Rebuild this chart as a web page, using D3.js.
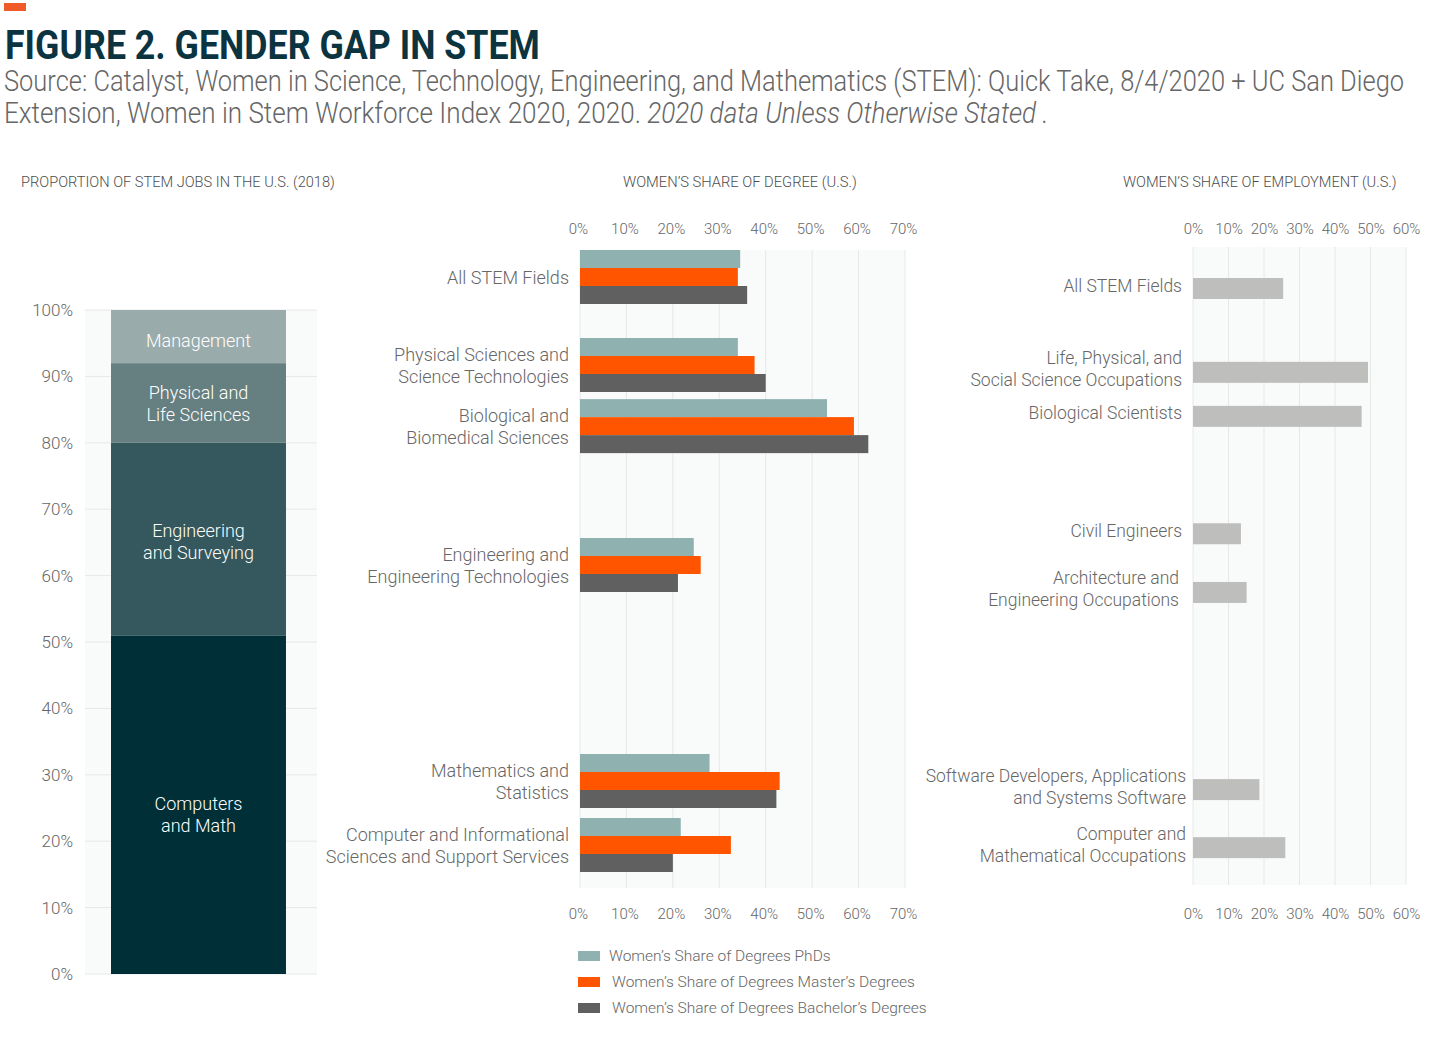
<!DOCTYPE html>
<html><head><meta charset="utf-8">
<script src="https://cdn.jsdelivr.net/npm/d3@7"></script>
<style>
body{margin:0;background:#fff}
text{font-family:Roboto,"Open Sans",sans-serif}
</style>
</head><body>
<svg id="c" width="1430" height="1064"></svg>
<script>
// ---------- DATA ----------
const titleText = "FIGURE 2. GENDER GAP IN STEM";
const sourceLine1 = "Source: Catalyst, Women in Science, Technology, Engineering, and Mathematics (STEM): Quick Take, 8/4/2020 + UC San Diego";
const sourceLine2 = "Extension, Women in Stem Workforce Index 2020, 2020. ";
const sourceLine2Italic = "2020 data Unless Otherwise Stated .";

const jobsTitle = "PROPORTION OF STEM JOBS IN THE U.S. (2018)";
const jobCategories = ["Computers and Math", "Engineering and Surveying", "Physical and Life Sciences", "Management"];
const jobLabelLines = [["Computers", "and Math"], ["Engineering", "and Surveying"], ["Physical and", "Life Sciences"], ["Management"]];
const jobShares = [51, 29, 12, 8];
const jobTicks = [0, 10, 20, 30, 40, 50, 60, 70, 80, 90, 100];

const degreeTitle = "WOMEN\u2019S SHARE OF DEGREE (U.S.)";
const degreeFields = ["All STEM Fields", "Physical Sciences and Science Technologies", "Biological and Biomedical Sciences",
  "Engineering and Engineering Technologies", "Mathematics and Statistics", "Computer and Informational Sciences and Support Services"];
const degreeFieldLines = [["All STEM Fields"], ["Physical Sciences and", "Science Technologies"], ["Biological and", "Biomedical Sciences"],
  ["Engineering and", "Engineering Technologies"], ["Mathematics and", "Statistics"], ["Computer and Informational", "Sciences and Support Services"]];
const degreeSeries = ["Women\u2019s Share of Degrees PhDs", "Women\u2019s Share of Degrees Master\u2019s Degrees", "Women\u2019s Share of Degrees Bachelor\u2019s Degrees"];
const phdShare = [34.5, 34.0, 53.2, 24.5, 27.9, 21.7];
const mastersShare = [34.0, 37.6, 59.0, 26.0, 43.0, 32.5];
const bachelorsShare = [36.0, 40.0, 62.1, 21.1, 42.3, 20.0];
const degreeTicks = [0, 10, 20, 30, 40, 50, 60, 70];

const employmentTitle = "WOMEN\u2019S SHARE OF EMPLOYMENT (U.S.)";
const employmentFields = ["All STEM Fields", "Life, Physical, and Social Science Occupations", "Biological Scientists", "Civil Engineers",
  "Architecture and Engineering Occupations", "Software Developers, Applications and Systems Software", "Computer and Mathematical Occupations"];
const employmentFieldLines = [["All STEM Fields"], ["Life, Physical, and", "Social Science Occupations"], ["Biological Scientists"], ["Civil Engineers"],
  ["Architecture and", "Engineering Occupations"], ["Software Developers, Applications", "and Systems Software"], ["Computer and", "Mathematical Occupations"]];
const employmentShare = [25.4, 49.3, 47.5, 13.5, 15.1, 18.7, 26.0];
const employmentTicks = [0, 10, 20, 30, 40, 50, 60];

// ---------- LAYOUT / STYLE ----------
const jobColors = ["#002f38", "#34585d", "#667f81", "#9aabab"];
const seriesColors = ["#8fb1b0", "#ff5500", "#606060"];
const empColor = "#bebfbd";
const gridColor = "#e6e8e8";
const plotBg = "#f9fafa";
const textGrey = "#666666";
// row placement (in row units) for the two bar charts
const degreeRowTop = [0, 1.375, 2.33, 4.5, 7.875, 8.875];
const employmentRowTop = [0.486, 1.8, 2.49, 4.33, 5.25, 8.34, 9.25];
const jobLabelShift = [10, 3, 1, 4];       // px nudges of segment labels
const employmentLabelShift = [0, 0, 0, 0, -3, 4, 4]; // px nudges of label anchors

const svg = d3.select("#c");

function fitWidth(node, target) {
  const w = node.getComputedTextLength();
  const x = +node.getAttribute("x") || 0;
  const s = target / w;
  d3.select(node).attr("transform", `translate(${x},0) scale(${s},1) translate(${-x},0)`);
}

// ---------- HEADER ----------
svg.append("rect").attr("x", 4).attr("y", 3).attr("width", 22).attr("height", 8).attr("fill", "#f05a28");
const t = svg.append("text").attr("x", 5).attr("y", 59).attr("font-size", 40).attr("font-weight", 700)
  .attr("fill", "#0b3440").text(titleText);
fitWidth(t.node(), 535);
const s1 = svg.append("text").attr("x", 4).attr("y", 91).attr("font-size", 29).attr("font-weight", 300)
  .attr("fill", textGrey).text(sourceLine1);
fitWidth(s1.node(), 1401);
const s2 = svg.append("text").attr("x", 4).attr("y", 123).attr("font-size", 29).attr("font-weight", 300).attr("fill", textGrey);
s2.append("tspan").text(sourceLine2);
s2.append("tspan").attr("font-style", "italic").text(sourceLine2Italic);
fitWidth(s2.node(), 1045);

// panel titles
const pt1 = svg.append("text").attr("x", 21).attr("y", 187).attr("font-size", 15).attr("font-weight", 300).attr("fill", "#4d4d4d").text(jobsTitle);
fitWidth(pt1.node(), 314);
const pt2 = svg.append("text").attr("x", 623).attr("y", 187).attr("font-size", 15).attr("font-weight", 300).attr("fill", "#4d4d4d").text(degreeTitle);
fitWidth(pt2.node(), 234);
const pt3 = svg.append("text").attr("x", 1123).attr("y", 187).attr("font-size", 15).attr("font-weight", 300).attr("fill", "#4d4d4d").text(employmentTitle);
fitWidth(pt3.node(), 274);

// ---------- LEFT: STACKED COLUMN ----------
const yJobs = d3.scaleLinear().domain([0, 100]).range([974, 310]);
const xJobs = d3.scaleBand().domain(["STEM jobs"]).range([85, 317]).paddingOuter(0.163).paddingInner(0).align(0.456);
const jobRow = {key: "STEM jobs"};
jobCategories.forEach((c, i) => jobRow[c] = jobShares[i]);
const stacked = d3.stack().keys(jobCategories)([jobRow]);

const gL = svg.append("g");
gL.append("rect").attr("x", 85).attr("y", yJobs(100)).attr("width", 232).attr("height", yJobs(0) - yJobs(100)).attr("fill", plotBg);
gL.selectAll("line.grid").data(jobTicks).join("line").attr("class", "grid")
  .attr("x1", 85).attr("x2", 317).attr("y1", d => yJobs(d)).attr("y2", d => yJobs(d))
  .attr("stroke", gridColor).attr("stroke-width", 1);
gL.selectAll("rect.seg").data(stacked).join("rect").attr("class", "seg")
  .attr("x", xJobs("STEM jobs")).attr("width", xJobs.bandwidth())
  .attr("y", d => yJobs(d[0][1])).attr("height", d => yJobs(d[0][0]) - yJobs(d[0][1]))
  .attr("fill", (d, i) => jobColors[i]);
gL.selectAll("text.seglab").data(stacked).join("text").attr("class", "seglab")
  .attr("x", xJobs("STEM jobs") + xJobs.bandwidth() / 2)
  .attr("y", (d, i) => (yJobs(d[0][0]) + yJobs(d[0][1])) / 2 + jobLabelShift[i])
  .attr("text-anchor", "middle").attr("fill", "#ffffff").attr("font-size", 18).attr("font-weight", 300)
  .each(function(d, i) {
    const lines = jobLabelLines[i];
    const el = d3.select(this);
    lines.forEach((ln, k) => el.append("tspan").attr("x", el.attr("x"))
      .attr("dy", k === 0 ? (-(lines.length - 1) * 11 + 6) + "px" : "22px").text(ln));
  });
const axL = gL.append("g").attr("transform", "translate(85,0)")
  .call(d3.axisLeft(yJobs).tickValues(jobTicks).tickFormat(d => d + "%").tickSize(0).tickPadding(12));
axL.select(".domain").remove();
axL.selectAll("text").attr("font-size", 17).attr("fill", textGrey).attr("font-family", "Roboto").attr("font-weight", 300);

// ---------- MIDDLE: GROUPED BARS ----------
const xDeg = d3.scaleLinear().domain([0, 70]).range([580, 905]);
const yDegRow = d3.scaleLinear().domain([0, 10]).range([250, 890]);
const ySeries = d3.scaleBand().domain(degreeSeries).range([0, 54]);
const degreeValues = [phdShare, mastersShare, bachelorsShare];

const gM = svg.append("g");
gM.append("rect").attr("x", xDeg(0)).attr("y", 250).attr("width", xDeg(70) - xDeg(0)).attr("height", 638).attr("fill", plotBg);
gM.selectAll("line.grid").data(degreeTicks).join("line").attr("class", "grid")
  .attr("x1", d => xDeg(d)).attr("x2", d => xDeg(d)).attr("y1", 250).attr("y2", 888)
  .attr("stroke", gridColor);
const groups = gM.selectAll("g.grp").data(degreeFields).join("g").attr("class", "grp")
  .attr("transform", (d, i) => `translate(0,${yDegRow(degreeRowTop[i])})`);
groups.selectAll("rect").data((d, i) => degreeSeries.map((s, k) => ({s, v: degreeValues[k][i], k})))
  .join("rect").attr("x", xDeg(0)).attr("y", d => ySeries(d.s)).attr("height", ySeries.bandwidth())
  .attr("width", d => xDeg(d.v) - xDeg(0)).attr("fill", d => seriesColors[d.k]);
groups.append("text").attr("x", 569).attr("y", 28).attr("text-anchor", "end")
  .attr("font-size", 18).attr("font-weight", 300).attr("fill", textGrey)
  .each(function(d, i) {
    const lines = degreeFieldLines[i];
    const el = d3.select(this);
    lines.forEach((ln, k) => el.append("tspan").attr("x", 569)
      .attr("dy", k === 0 ? (-(lines.length - 1) * 11 + 6) + "px" : "22px").text(ln));
  });
const axMt = gM.append("g").attr("transform", "translate(-2,234)")
  .call(d3.axisTop(xDeg).tickValues(degreeTicks).tickFormat(d => d + "%").tickSize(0).tickPadding(0));
const axMb = gM.append("g").attr("transform", "translate(-2,919)")
  .call(d3.axisBottom(xDeg).tickValues(degreeTicks).tickFormat(d => d + "%").tickSize(0).tickPadding(0));
[axMt, axMb].forEach(a => {
  a.select(".domain").remove();
  a.selectAll("text").attr("font-size", 15).attr("fill", textGrey).attr("font-family", "Roboto").attr("font-weight", 300);
});
axMb.selectAll("text").attr("dy", "0");

// legend
const legend = svg.append("g").selectAll("g").data(degreeSeries).join("g")
  .attr("transform", (d, i) => `translate(578,${951 + i * 26})`);
legend.append("rect").attr("width", 22).attr("height", 10).attr("fill", (d, i) => seriesColors[i]);
legend.append("text").attr("x", (d, i) => i === 0 ? 31 : 34).attr("y", 10).attr("font-size", 15.5)
  .attr("font-weight", 300).attr("fill", textGrey).text(d => d);

// ---------- RIGHT: EMPLOYMENT BARS ----------
const xEmp = d3.scaleLinear().domain([0, 60]).range([1193, 1406]);
const yEmpRow = d3.scaleLinear().domain([0, 10]).range([247, 885]);
const barH = 21;
const gR = svg.append("g");
gR.append("rect").attr("x", xEmp(0)).attr("y", 247).attr("width", xEmp(60) - xEmp(0)).attr("height", 638).attr("fill", plotBg);
gR.selectAll("line.grid").data(employmentTicks).join("line").attr("class", "grid")
  .attr("x1", d => xEmp(d)).attr("x2", d => xEmp(d)).attr("y1", 247).attr("y2", 885).attr("stroke", gridColor);
gR.selectAll("rect.bar").data(employmentFields).join("rect").attr("class", "bar")
  .attr("x", xEmp(0)).attr("y", (d, i) => yEmpRow(employmentRowTop[i])).attr("height", barH)
  .attr("width", (d, i) => xEmp(employmentShare[i]) - xEmp(0)).attr("fill", empColor);
gR.selectAll("text.lab").data(employmentFields).join("text").attr("class", "lab")
  .attr("x", (d, i) => 1182 + employmentLabelShift[i]).attr("y", (d, i) => yEmpRow(employmentRowTop[i]) + barH / 2 - 3)
  .attr("text-anchor", "end").attr("font-size", 17.5).attr("font-weight", 300).attr("fill", textGrey)
  .each(function(d, i) {
    const lines = employmentFieldLines[i];
    const el = d3.select(this);
    lines.forEach((ln, k) => el.append("tspan").attr("x", 1182 + employmentLabelShift[i])
      .attr("dy", k === 0 ? (-(lines.length - 1) * 11 + 6) + "px" : "22px").text(ln));
  });
const axRt = gR.append("g").attr("transform", "translate(0,234)")
  .call(d3.axisTop(xEmp).tickValues(employmentTicks).tickFormat(d => d + "%").tickSize(0).tickPadding(0));
const axRb = gR.append("g").attr("transform", "translate(0,919)")
  .call(d3.axisBottom(xEmp).tickValues(employmentTicks).tickFormat(d => d + "%").tickSize(0).tickPadding(0));
[axRt, axRb].forEach(a => {
  a.select(".domain").remove();
  a.selectAll("text").attr("font-size", 15).attr("fill", textGrey).attr("font-family", "Roboto").attr("font-weight", 300);
});
axRb.selectAll("text").attr("dy", "0");
</script>
</body></html>
